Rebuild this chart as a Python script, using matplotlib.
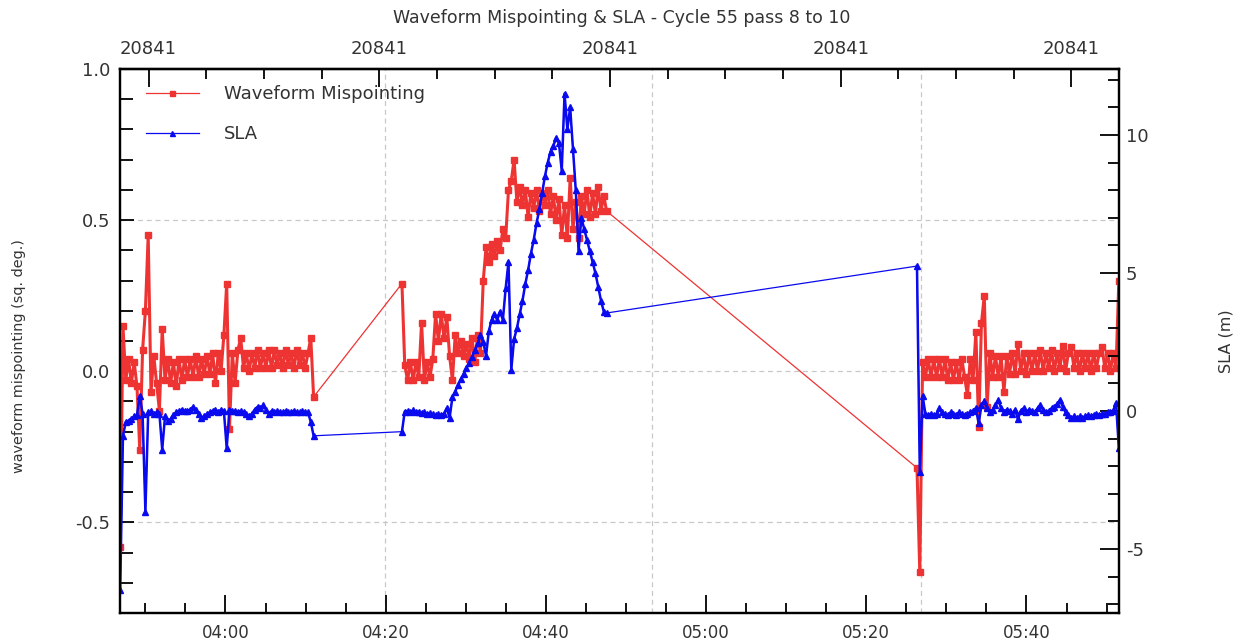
import numpy as np
import matplotlib
matplotlib.use("Agg")
import matplotlib.pyplot as plt
from matplotlib.ticker import MultipleLocator, FuncFormatter, FixedLocator
from matplotlib.lines import Line2D

plt.rcParams['font.family'] = ['DejaVu Sans']
plt.rcParams['axes.unicode_minus'] = False

# ---------------- data ----------------
# time of day in minutes, three passes sampled every 0.35 min
seg_start_min = [226.85, 262.03, 326.33]
sample_step_min = 0.35
cnes_day = 20841
top_ticks_day = [20841.16, 20841.18, 20841.20, 20841.22, 20841.24]
pass_boundaries_min = [259.9, 293.3, 326.8]

mispointing_seg1 = [
    -0.58, 0.15, -0.03, 0.04, -0.04, 0.03, -0.05, -0.26, 0.07, 0.20,
    0.45, -0.07, 0.05, -0.04, -0.13, 0.14, -0.03, 0.04, -0.04, 0.03,
    -0.05, 0.04, -0.03, 0.04, -0.02, 0.04, -0.02, 0.05, -0.02, 0.04,
    -0.01, 0.05, -0.01, 0.06, -0.04, 0.06, 0.00, 0.12, 0.29, -0.19,
    0.06, -0.04, 0.07, 0.11, 0.01, 0.06, 0.00, 0.06, 0.01, 0.07,
    0.01, 0.06, 0.01, 0.07, 0.01, 0.07, 0.02, 0.06, 0.01, 0.07,
    0.02, 0.06, 0.01, 0.07, 0.02, 0.06, 0.01, 0.06, 0.11, -0.085]
mispointing_seg2 = [
    0.29, 0.02, -0.03, 0.03, -0.03, 0.03, -0.02, 0.16, -0.03, 0.03,
    -0.02, 0.04, 0.19, 0.10, 0.19, 0.11, 0.18, 0.05, -0.03, 0.12,
    0.06, 0.10, 0.05, 0.09, 0.04, 0.11, 0.03, 0.12, 0.06, 0.30,
    0.41, 0.36, 0.42, 0.38, 0.43, 0.40, 0.47, 0.44, 0.60, 0.63,
    0.70, 0.56, 0.61, 0.55, 0.60, 0.51, 0.59, 0.54, 0.60, 0.53,
    0.59, 0.55, 0.60, 0.52, 0.58, 0.50, 0.57, 0.45, 0.55, 0.44,
    0.64, 0.47, 0.56, 0.44, 0.58, 0.52, 0.60, 0.51, 0.59, 0.52,
    0.61, 0.53, 0.58, 0.53]
mispointing_seg3 = [
    -0.32, -0.665, 0.03, -0.02, 0.04, -0.02, 0.04, -0.02, 0.04, -0.02,
    0.04, -0.03, 0.03, -0.03, 0.03, -0.03, 0.04, -0.02, -0.08, 0.04,
    -0.03, 0.13, -0.185, 0.16, 0.25, -0.12, 0.06, -0.02, 0.05, -0.02,
    0.05, -0.07, 0.05, -0.01, 0.06, -0.01, 0.09, 0.00, 0.06, -0.01,
    0.06, 0.00, 0.06, 0.00, 0.07, 0.00, 0.06, 0.01, 0.07, 0.00,
    0.06, 0.01, 0.085, 0.00, 0.06, 0.08, 0.01, 0.06, 0.00, 0.06,
    0.01, 0.06, 0.00, 0.06, 0.01, 0.06, 0.08, 0.01, 0.06, 0.00,
    0.06, 0.01, 0.30]

sla_seg1 = [
    -6.5, -0.9, -0.4, -0.35, -0.3, -0.2, -0.15, 0.55, -0.1, -3.65,
    -0.05, 0.0, -0.1, -0.05, -0.1, -1.4, -0.2, -0.35, -0.3, -0.15,
    -0.05, 0.0, 0.05, 0.0, 0.0, 0.05, 0.15, 0.05, -0.1, -0.25,
    -0.2, -0.1, -0.05, 0.0, 0.05, -0.05, 0.05, 0.0, -1.35, 0.05,
    0.0, 0.0, -0.05, 0.0, -0.05, -0.1, -0.2, -0.1, 0.05, 0.15,
    0.1, 0.2, 0.05, -0.1, 0.0, -0.05, 0.0, -0.05, -0.05, 0.0,
    -0.05, -0.05, 0.0, -0.05, -0.05, 0.0, -0.05, -0.05, -0.4, -0.9]
sla_seg2 = [
    -0.75, -0.02, 0.0, -0.05, 0.02, -0.05, -0.02, -0.08, -0.05, -0.1,
    -0.08, -0.12, -0.15, -0.12, -0.15, -0.1, 0.1, -0.25, 0.5, 0.7,
    0.95, 1.15, 1.35, 1.55, 1.75, 1.95, 2.2, 2.45, 2.75, 2.5,
    2.0, 2.9, 3.3, 3.5, 3.3, 3.6, 3.3, 4.45, 5.4, 1.5,
    2.6, 3.0, 3.5, 4.0, 4.6, 5.1, 5.7, 6.2, 6.8, 7.3,
    7.9, 8.5, 9.0, 9.4, 9.6, 9.9, 9.7, 8.7, 11.5, 10.2,
    11.0, 9.5, 8.0, 5.8, 7.0, 6.6, 6.2, 5.8, 5.4, 5.0,
    4.5, 4.0, 3.6, 3.55]
sla_seg3 = [
    5.25, -2.2, 0.55, -0.1, -0.15, -0.1, -0.15, -0.1, 0.1, -0.05,
    -0.1, -0.15, -0.05, -0.1, -0.15, -0.05, -0.1, -0.15, -0.1, -0.05,
    0.0, 0.1, -0.45, 0.2, 0.35, 0.1, -0.05, 0.05, 0.2, 0.4,
    0.1, -0.05, 0.05, 0.0, -0.1, 0.05, -0.3, 0.0, 0.1, -0.05,
    0.05, 0.0, -0.05, 0.1, 0.2, 0.05, -0.05, 0.0, 0.1, 0.15,
    0.25, 0.4, 0.15, -0.05, -0.15, -0.25, -0.2, -0.25, -0.2, -0.25,
    -0.2, -0.15, -0.2, -0.15, -0.1, -0.15, -0.1, -0.1, -0.05, -0.05,
    0.0, 0.3, -1.35]

# ---------------- build series ----------------
mis_segs = [mispointing_seg1, mispointing_seg2, mispointing_seg3]
sla_segs = [sla_seg1, sla_seg2, sla_seg3]
t_mis_segs = [s0 + sample_step_min * np.arange(len(v)) for s0, v in zip(seg_start_min, mis_segs)]
t_sla_segs = [s0 + sample_step_min * np.arange(len(v)) for s0, v in zip(seg_start_min, sla_segs)]
t_mis = np.concatenate(t_mis_segs)
t_sla = np.concatenate(t_sla_segs)
mis = np.concatenate(mis_segs)
sla = np.concatenate(sla_segs)

RED = '#ee3333'
BLUE = '#0a0aee'
TXT = '#333333'

fig = plt.figure(figsize=(12.44, 6.43), dpi=100)
ax = fig.add_axes([120/1244, 1 - 613/643, 999/1244, 544/643])
ax2 = ax.twinx()

# thin connecting line for the whole series, denser look inside each pass
ax.plot(t_mis, mis, color=RED, lw=0.9)
for tt, vv in zip(t_mis_segs, mis_segs):
    ax.plot(tt, vv, color=RED, lw=2.2, marker='s', ms=4.5, mec=RED, mfc=RED)
ax2.plot(t_sla, sla, color=BLUE, lw=0.9)
for tt, vv in zip(t_sla_segs, sla_segs):
    ax2.plot(tt, vv, color=BLUE, lw=1.8, marker='^', ms=4.8, mec=BLUE, mfc=BLUE)

ax.set_xlim(226.83, 351.55)
ax.set_ylim(-0.8, 1.0)
ax2.set_ylim(-7.32, 12.39)

# grid
for yv in [-0.5, 0.0, 0.5]:
    ax.axhline(yv, color='#c8c8c8', lw=0.9, ls=(0, (4, 3)), zorder=0)
for xv in pass_boundaries_min:
    ax.axvline(xv, color='#c8c8c8', lw=0.9, ls=(0, (4, 3)), zorder=0)

# bottom axis (time of day)
ax.xaxis.set_major_locator(MultipleLocator(20))
ax.xaxis.set_minor_locator(MultipleLocator(5))
ax.xaxis.set_major_formatter(FuncFormatter(
    lambda m, p: f"{int(round(m)) // 60:02d}:{int(round(m)) % 60:02d}"))
ax.yaxis.set_major_locator(MultipleLocator(0.5))
ax.yaxis.set_minor_locator(MultipleLocator(0.1))
ax.yaxis.set_major_formatter(FuncFormatter(lambda v, p: f"{v:.1f}"))
ax.tick_params(axis='x', which='major', direction='in', length=13, width=1.3,
               labelsize=12, labelcolor=TXT, pad=8, top=False)
ax.tick_params(axis='x', which='minor', direction='in', length=7, width=1.3, top=False)
ax.tick_params(axis='y', which='major', direction='in', length=10, width=1.3,
               labelsize=13, labelcolor=TXT, pad=7, right=False)
ax.tick_params(axis='y', which='minor', direction='in', length=9, width=1.3, right=False)

# right axis
ax2.yaxis.set_major_locator(MultipleLocator(5))
ax2.yaxis.set_minor_locator(MultipleLocator(1))
ax2.yaxis.set_major_formatter(FuncFormatter(lambda v, p: f"{v:.0f}"))
ax2.tick_params(axis='y', which='major', direction='in', length=14, width=1.3,
                labelsize=13, labelcolor=TXT, pad=5, left=False)
ax2.tick_params(axis='y', which='minor', direction='in', length=8, width=1.3, left=False)

# top axis (CNES julian day)
sec = ax.secondary_xaxis('top', functions=(lambda m: cnes_day + m / 1440.0,
                                           lambda d: (d - cnes_day) * 1440.0))
sec.xaxis.set_major_locator(FixedLocator(top_ticks_day))
sec.xaxis.set_minor_locator(MultipleLocator(0.005))
sec.xaxis.set_major_formatter(FuncFormatter(lambda v, p: f"{int(v)}"))
sec.tick_params(axis='x', which='major', direction='in', length=13, width=1.3,
                labelsize=13, labelcolor=TXT, pad=8)
sec.tick_params(axis='x', which='minor', direction='in', length=7, width=1.3)

for a in (ax, ax2):
    for s in a.spines.values():
        s.set_linewidth(1.6)
for s in sec.spines.values():
    s.set_linewidth(1.6)

ax.set_ylabel('waveform mispointing (sq. deg.)', fontsize=10.4, color=TXT)
ax.yaxis.set_label_coords(-0.094, 0.472)
ax2.set_ylabel('SLA (m)', fontsize=11.5, color=TXT, labelpad=50)
fig.text(622/1244, 1 - 18/643, 'Waveform Mispointing & SLA - Cycle 55 pass 8 to 10',
         fontsize=12.5, color=TXT, ha='center', va='center')

handles = [Line2D([], [], color=RED, lw=0.9, marker='s', ms=3.6),
           Line2D([], [], color=BLUE, lw=0.9, marker='^', ms=3.6)]
leg = ax2.legend(handles, ['Waveform Mispointing', 'SLA'], loc='upper left',
                 frameon=False, fontsize=13, handlelength=2.9, handletextpad=1.4,
                 labelspacing=1.2, numpoints=1, borderaxespad=0.5,
                 bbox_to_anchor=(0.01, 1.0))
for t in leg.get_texts():
    t.set_color(TXT)

fig.savefig('out.png', dpi=100)
